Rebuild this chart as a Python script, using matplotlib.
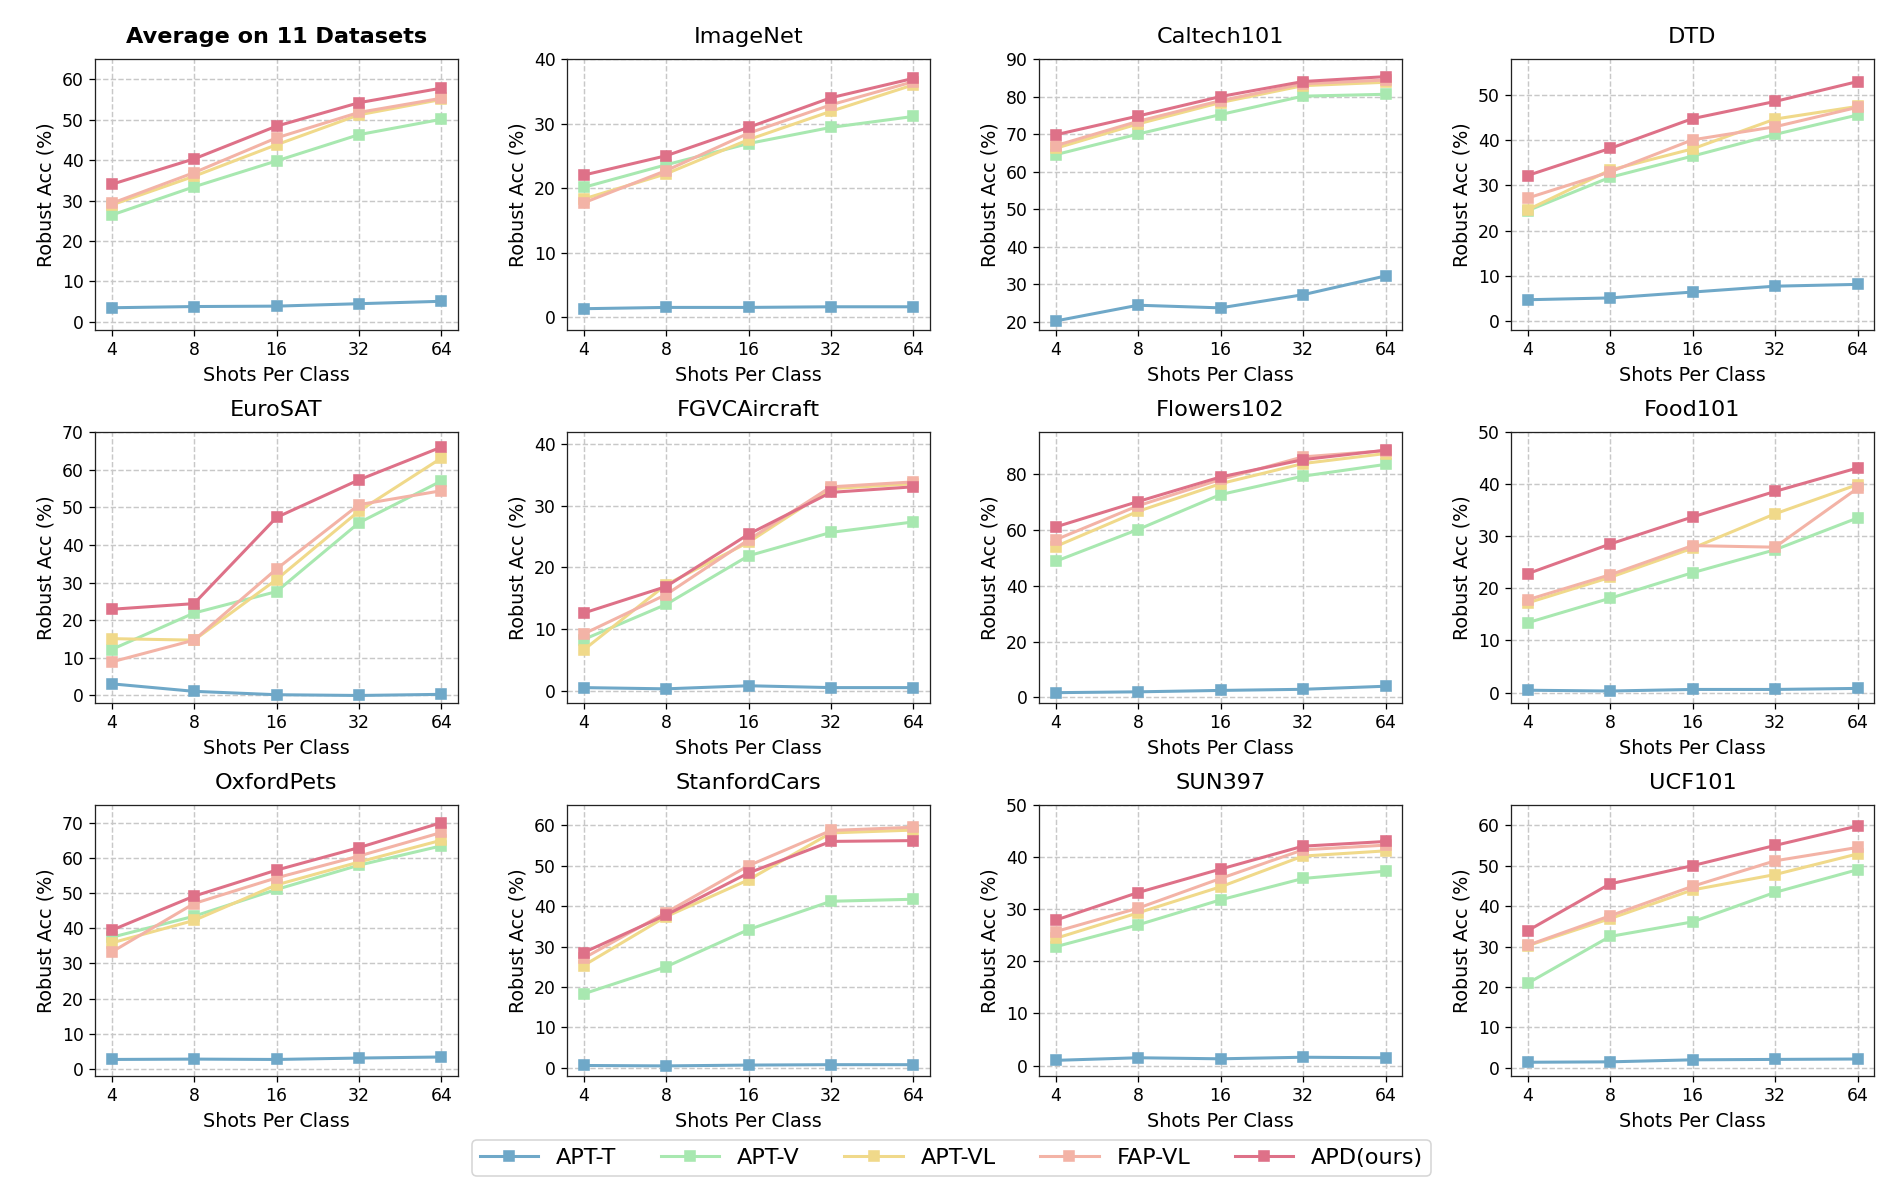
import matplotlib
matplotlib.use("Agg")
import matplotlib.pyplot as plt
from matplotlib.ticker import MultipleLocator

shots = ["4", "8", "16", "32", "64"]
methods = ["APT-T", "APT-V", "APT-VL", "FAP-VL", "APD(ours)"]
colors = ["#6fa8c8", "#a8e8b0", "#f0d98a", "#f3b3a6", "#de7188"]

titles = ["Average on 11 Datasets", "ImageNet", "Caltech101", "DTD",
          "EuroSAT", "FGVCAircraft", "Flowers102", "Food101",
          "OxfordPets", "StanfordCars", "SUN397", "UCF101"]

avg = [[3.5, 3.8, 3.9, 4.5, 5.1],
       [26.4, 33.4, 39.8, 46.3, 50.1],
       [28.9, 36.0, 43.8, 51.2, 55.0],
       [29.3, 36.9, 45.5, 51.8, 55.3],
       [34.0, 40.3, 48.4, 54.2, 57.8]]
imagenet = [[1.3, 1.5, 1.5, 1.6, 1.6],
            [20.1, 23.6, 26.9, 29.4, 31.1],
            [18.3, 22.2, 27.5, 31.9, 36.0],
            [17.7, 22.7, 28.5, 32.9, 36.5],
            [22.0, 25.0, 29.4, 34.0, 37.0]]
caltech = [[20.2, 24.4, 23.7, 27.2, 32.2],
           [64.5, 70.0, 75.2, 80.1, 80.6],
           [66.2, 72.7, 78.4, 82.9, 83.8],
           [66.9, 73.4, 78.9, 83.4, 84.4],
           [69.8, 74.8, 80.0, 84.0, 85.3]]
dtd = [[4.7, 5.1, 6.4, 7.7, 8.1],
       [24.4, 31.8, 36.5, 41.3, 45.6],
       [24.6, 33.4, 38.1, 44.7, 47.5],
       [27.2, 33.0, 40.1, 43.0, 47.3],
       [32.2, 38.2, 44.8, 48.6, 53.0]]
eurosat = [[3.1, 1.1, 0.2, 0.0, 0.3],
           [12.2, 21.9, 27.6, 45.9, 57.0],
           [15.1, 14.7, 30.8, 49.0, 63.1],
           [8.9, 14.7, 33.6, 50.7, 54.4],
           [22.9, 24.4, 47.3, 57.3, 66.0]]
fgvc = [[0.5, 0.3, 0.8, 0.5, 0.5],
        [8.3, 14.0, 21.9, 25.7, 27.4],
        [6.6, 17.2, 24.1, 32.8, 33.6],
        [9.2, 15.6, 24.5, 33.1, 33.9],
        [12.6, 16.9, 25.4, 32.2, 33.1]]
flowers = [[1.7, 2.0, 2.5, 2.9, 4.0],
           [48.7, 60.1, 72.6, 79.2, 83.4],
           [54.0, 66.6, 76.5, 83.7, 87.3],
           [56.4, 68.6, 78.0, 86.1, 88.3],
           [61.0, 70.1, 78.9, 85.1, 88.5]]
food = [[0.45, 0.3, 0.6, 0.6, 0.8],
        [13.4, 18.1, 23.0, 27.4, 33.5],
        [17.2, 22.1, 27.7, 34.3, 39.9],
        [17.8, 22.6, 28.2, 27.9, 39.2],
        [22.8, 28.5, 33.7, 38.6, 43.1]]
pets = [[2.7, 2.8, 2.7, 3.1, 3.4],
        [37.4, 43.4, 51.0, 57.9, 63.4],
        [35.8, 42.2, 52.3, 58.8, 65.0],
        [33.2, 47.0, 54.3, 60.5, 67.2],
        [39.4, 49.1, 56.5, 62.9, 70.0]]
cars = [[0.6, 0.5, 0.7, 0.8, 0.8],
        [18.3, 25.0, 34.2, 41.2, 41.7],
        [25.3, 37.4, 46.5, 58.1, 58.8],
        [27.1, 38.4, 50.0, 58.7, 59.5],
        [28.5, 37.8, 48.2, 56.0, 56.2]]
sun = [[1.0, 1.5, 1.3, 1.6, 1.5],
       [22.8, 27.0, 31.8, 35.9, 37.3],
       [24.4, 29.3, 34.3, 40.2, 41.2],
       [25.7, 30.2, 35.9, 41.4, 42.3],
       [27.9, 33.2, 37.7, 42.1, 43.0]]
ucf = [[1.4, 1.5, 2.0, 2.1, 2.2],
       [20.9, 32.5, 36.1, 43.4, 49.0],
       [30.2, 36.9, 44.0, 47.8, 52.9],
       [30.3, 37.6, 44.9, 51.2, 54.5],
       [33.9, 45.5, 50.0, 55.0, 59.8]]

datasets = [avg, imagenet, caltech, dtd, eurosat, fgvc, flowers, food,
            pets, cars, sun, ucf]
ylims = [(-2, 65), (-2, 40), (17.8, 90), (-2, 58),
         (-2, 70), (-2, 42), (-2, 95), (-2, 50),
         (-2, 75), (-2, 65), (-2, 50), (-2, 65)]
ysteps = [10, 10, 10, 10, 10, 10, 20, 10, 10, 10, 10, 10]

W, H = 1903, 1189
dpi = 115
fig = plt.figure(figsize=(W / dpi, H / dpi), dpi=dpi)

col_left = [95, 567, 1039, 1511]
row_bottom = [330, 703, 1076]
aw, ah = 363, 271

x = list(range(len(shots)))
handles = []
for i, (title, data) in enumerate(zip(titles, datasets)):
    r, c = divmod(i, 4)
    ax = fig.add_axes([col_left[c] / W, 1 - row_bottom[r] / H, aw / W, ah / H])
    for k, (m, col) in enumerate(zip(methods, colors)):
        ln, = ax.plot(x, data[k], color=col, marker="s", markersize=6.8,
                      linewidth=1.9, label=m, zorder=2 + k)
        if i == 0:
            handles.append(ln)
    ax.set_xticks(x)
    ax.set_xticklabels(shots)
    ax.set_ylim(*ylims[i])
    ax.yaxis.set_major_locator(MultipleLocator(ysteps[i]))
    ax.grid(True, linestyle="--", color="#c8c8c8", linewidth=0.9)
    ax.set_axisbelow(True)
    ax.tick_params(labelsize=10.8)
    ax.set_xlabel("Shots Per Class", fontsize=12)
    ax.set_ylabel("Robust Acc (%)", fontsize=12)
    if i == 0:
        ax.set_title(title, fontsize=14, fontweight="bold", pad=10)
    else:
        ax.set_title(title, fontsize=14, pad=10)
    for s in ax.spines.values():
        s.set_color("#222222")

fig.legend(handles, methods, loc="center", bbox_to_anchor=(0.5, 1 - 1158 / H),
           ncol=5, fontsize=14, handlelength=2.6, columnspacing=2.0,
           frameon=True, fancybox=True, edgecolor="#cccccc",
           borderpad=0.35)

fig.savefig("out.png", dpi=dpi)
